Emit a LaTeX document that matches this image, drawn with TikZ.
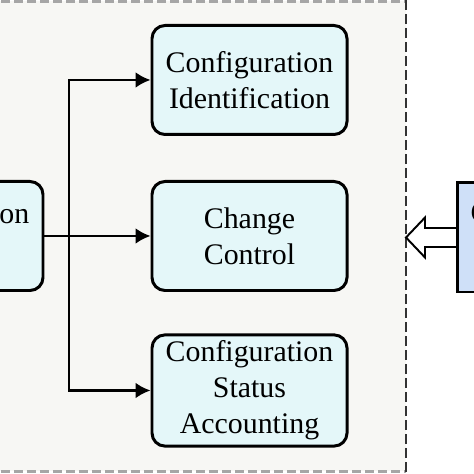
\documentclass[tikz,border=0pt]{standalone}
\usepackage{fontspec}
\setmainfont{Liberation Serif}
\usetikzlibrary{arrows.meta}
\definecolor{panelbg}{HTML}{F7F7F4}
\definecolor{stepfill}{HTML}{E4F7F9}
\definecolor{auditfill}{HTML}{CFE0F8}
\tikzset{
  stepbox/.style={draw, line width=1.7pt, rounded corners=0.26cm, fill=stepfill,
    minimum width=3.9cm, minimum height=2.18cm, align=center,
    font=\fontsize{17}{20.5}\selectfont},
  flow/.style={line width=1.4pt, -{Latex[length=8.5pt,width=9pt]}},
}

\begin{document}
\begin{tikzpicture}
\useasboundingbox (0,0) rectangle (9.48,9.48);
\clip (0,0) rectangle (9.48,9.48);
% dashed panel
\fill[panelbg] (-0.5,0.05) rectangle (8.12,9.45);
\draw[gray!70, line width=2pt, dash pattern=on 0.18cm off 0.08cm] (-0.5,9.45) -- (8.12,9.45);
\draw[gray!70, line width=2pt, dash pattern=on 0.18cm off 0.08cm] (-0.5,0.05) -- (8.12,0.05);
\draw[black!80, line width=0.8pt, dash pattern=on 0.2cm off 0.08cm] (8.12,9.48) -- (8.12,0);
\coordinate (frameE) at (8.12,4.73);
\node[stepbox] (plan) at (-1.09,4.76) {Configuration\\[2pt]Planning};
\node[stepbox] (ident) at (4.99,7.88) {Configuration\\Identification};
\node[stepbox] (ctrl) at (4.99,4.76) {Change\\Control};
\node[stepbox] (status) at (4.99,1.67) {Configuration\\Status\\Accounting};
\coordinate (split) at (1.38,4.76);
\draw[flow] (plan) -- (ctrl);
\draw[flow] (split) |- (ident);
\draw[flow] (split) |- (status);
% hollow arrow into the panel
\draw[line width=1.1pt, fill=white, line join=miter] (9.14,4.92) -- ++(-0.64,0) -- ++(0,0.21) -- (frameE) -- (8.50,4.33) -- ++(0,0.21) -- (9.14,4.54);
\node[draw, line width=1.7pt, fill=auditfill, minimum width=3.9cm, minimum height=2.18cm,
  align=center, font=\fontsize{17}{20.5}\selectfont] (audit) at (11.09,4.73) {Configuration\\[8pt]Audit};
\end{tikzpicture}
\end{document}
